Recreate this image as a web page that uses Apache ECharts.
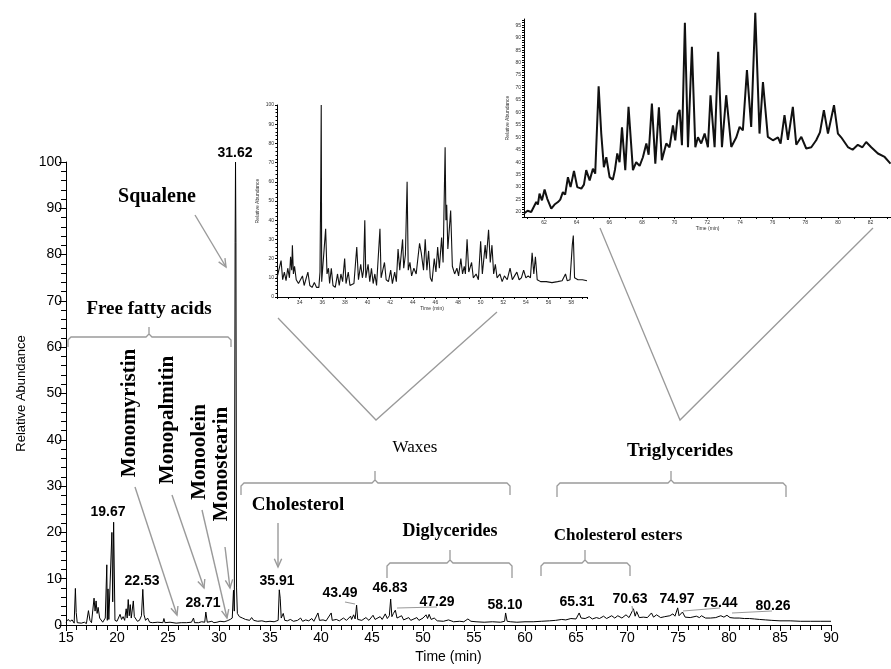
<!DOCTYPE html>
<html><head><meta charset="utf-8">
<script src="https://cdn.jsdelivr.net/npm/echarts@6/dist/echarts.min.js"></script>
<style>html,body{margin:0;padding:0;background:#fff}#c{width:891px;height:669px}</style>
</head><body><div id="c"></div>
<script>
// ---------- DATA ----------
// Main chromatogram: [time (min), relative abundance]
const mainData = [[15.0,0.6],[15.2,1.2],[15.4,0.8],[15.6,1.1],[15.8,0.4],[15.92,7.9],[16.0,2.7],[16.1,0.5],[16.5,0.4],[16.8,0.6],[17.0,0.3],[17.2,3.1],[17.35,1.0],[17.5,0.5],[17.75,5.8],[17.85,3.0],[17.95,5.2],[18.05,2.5],[18.15,3.8],[18.3,1.5],[18.45,1.6],[18.6,0.6],[18.85,1.5],[19.0,13.0],[19.05,1.0],[19.12,7.8],[19.2,1.2],[19.5,20.0],[19.58,5],[19.67,22.2],[19.8,1.0],[20.0,0.8],[20.3,2.3],[20.45,1.2],[20.6,1.8],[20.75,1.0],[20.9,3.5],[21.0,1.5],[21.1,5.5],[21.2,2.0],[21.3,4.4],[21.4,1.5],[21.6,5.2],[21.7,1.8],[21.85,1.5],[22.0,0.8],[22.2,1.0],[22.4,2.0],[22.53,7.7],[22.65,2.2],[22.8,1.0],[23.0,1.5],[23.2,0.6],[23.5,0.5],[24.0,0.6],[24.5,0.5],[24.6,1.4],[24.7,0.5],[25.2,0.6],[25.8,0.4],[26.3,0.5],[26.8,0.5],[27.3,0.6],[27.5,1.5],[27.6,0.5],[28.0,0.5],[28.3,0.7],[28.6,0.6],[28.71,2.8],[28.85,0.6],[29.3,0.8],[29.5,0.5],[29.8,0.6],[30.1,0.8],[30.5,0.7],[30.8,0.9],[31.1,1.2],[31.3,1.5],[31.42,7.5],[31.5,3],[31.58,82.7],[31.62,100],[31.66,82.7],[31.72,8],[31.8,2.5],[32.0,1.8],[32.3,1.5],[32.6,1.2],[33.0,1.0],[33.2,1.6],[33.4,1.0],[33.8,0.8],[34.2,0.9],[34.6,0.7],[35.0,0.8],[35.4,0.7],[35.8,1.0],[35.91,7.6],[36.0,5.8],[36.1,1.5],[36.3,2.5],[36.45,1.0],[36.7,0.9],[37.0,1.2],[37.3,0.8],[37.7,1.0],[38.0,1.5],[38.2,0.8],[38.5,1.1],[38.8,0.9],[39.1,1.4],[39.3,0.8],[39.7,2.6],[39.85,1.0],[40.2,1.1],[40.5,0.9],[41.0,2.6],[41.1,1.0],[41.5,1.2],[41.8,0.9],[42.2,1.5],[42.5,1.0],[42.9,1.9],[43.0,1.2],[43.2,2.2],[43.35,1.3],[43.49,4.3],[43.6,1.2],[44.0,1.0],[44.4,1.6],[44.7,1.0],[45.1,2.1],[45.3,1.2],[45.8,1.8],[46.0,1.2],[46.3,2.4],[46.5,1.4],[46.7,2.0],[46.83,5.6],[46.95,1.8],[47.1,2.5],[47.29,3.2],[47.45,1.5],[47.9,2.0],[48.1,1.1],[48.6,1.6],[48.8,1.0],[49.4,1.6],[49.6,1.0],[50.0,1.5],[50.3,2.2],[50.45,1.4],[50.6,2.3],[50.8,1.2],[51.1,1.5],[51.4,0.9],[52.0,0.8],[52.5,1.1],[53.0,0.7],[53.6,0.8],[54.0,0.7],[54.4,1.3],[54.7,0.8],[55.2,0.7],[56.0,0.6],[56.8,0.7],[57.6,0.6],[58.0,0.8],[58.1,2.6],[58.25,0.8],[58.6,0.7],[59.2,0.6],[60.0,0.7],[60.8,0.7],[61.6,0.8],[62.4,0.9],[63.0,1.0],[63.6,1.2],[64.0,1.1],[64.5,1.4],[65.0,1.3],[65.31,2.6],[65.5,1.5],[65.9,1.4],[66.3,1.8],[66.6,1.3],[67.0,1.6],[67.3,1.4],[67.7,1.9],[68.0,1.4],[68.5,2.0],[68.8,1.5],[69.1,2.0],[69.5,1.5],[69.9,2.2],[70.2,1.6],[70.63,3.5],[70.8,1.9],[70.95,2.9],[71.2,1.6],[71.6,1.7],[72.0,1.6],[72.4,2.6],[72.6,1.7],[72.9,2.2],[73.3,1.6],[73.7,1.8],[74.2,2.0],[74.5,2.4],[74.7,1.9],[74.97,3.7],[75.1,2.0],[75.44,2.8],[75.7,1.7],[76.2,1.6],[76.8,1.9],[77.1,1.6],[77.3,2.0],[77.7,1.5],[78.2,1.5],[78.7,1.6],[79.2,2.0],[79.5,1.7],[79.8,2.1],[80.1,1.6],[80.5,1.5],[81.0,1.5],[81.5,1.4],[82.0,1.4],[82.5,1.3],[83.0,1.2],[83.6,1.1],[84.2,1.0],[85.0,0.9],[86.0,0.9],[87.0,0.8],[88.0,0.8],[89.0,0.8],[90.0,0.8]];

// Inset 1 (waxes region)
const waxData = [[32.0,10],[32.15,9],[32.36,19],[32.5,9],[32.65,13],[32.8,8.5],[32.95,15],[33.1,10],[33.2,21],[33.3,14],[33.36,27],[33.45,12],[33.55,16],[33.7,9],[33.9,7],[34.05,6],[34.25,11],[34.4,6],[34.55,5.5],[34.73,13],[34.9,6],[35.1,5],[35.3,7.5],[35.5,5],[35.7,5],[35.8,13],[35.87,62],[35.91,100],[35.95,8],[36.1,9],[36.3,35.5],[36.42,12],[36.55,15],[36.65,7],[36.8,15],[36.95,6],[37.15,5],[37.35,12],[37.5,6],[37.65,12],[37.8,8],[37.98,20],[38.1,7],[38.3,13],[38.45,6],[38.6,5],[38.8,7],[39.05,26],[39.2,9],[39.4,17],[39.55,10],[39.65,14],[39.76,40],[39.85,10],[40.05,17],[40.2,8],[40.35,15],[40.5,7],[40.65,12],[40.8,6],[41.1,35.5],[41.2,10],[41.35,9],[41.5,18],[41.65,9],[41.85,8],[42.05,14],[42.2,7],[42.4,13],[42.55,8],[42.7,25],[42.85,14],[43.1,30],[43.2,15],[43.35,22],[43.5,60],[43.6,14],[43.75,18],[43.9,11],[44.1,15],[44.3,12],[44.6,28],[44.75,23],[44.95,14],[45.1,30],[45.25,14],[45.4,24],[45.55,10],[45.7,8],[45.9,20],[46.05,13],[46.2,26],[46.35,15],[46.55,31],[46.68,18],[46.86,78],[46.93,40],[47.0,48],[47.1,25],[47.35,45],[47.5,16],[47.7,12],[47.9,15],[48.05,11],[48.25,20],[48.4,12],[48.55,16],[48.65,12],[48.8,30],[48.95,13],[49.2,18],[49.35,10],[49.6,12],[49.8,9],[50.0,29],[50.15,12],[50.4,27],[50.5,20],[50.7,35],[50.85,18],[51.0,27],[51.15,12],[51.3,17],[51.45,10],[51.7,12],[51.9,8],[52.1,11],[52.35,9],[52.6,15],[52.8,9],[53.0,11],[53.2,13],[53.4,9],[53.6,10],[53.8,14],[54.0,10],[54.2,11],[54.4,10],[54.55,23],[54.7,12],[54.84,21],[55.0,9],[55.3,8],[55.8,8],[56.3,7.5],[56.8,8],[57.2,8.5],[57.5,12],[57.65,8.5],[57.9,9],[58.1,27],[58.19,32],[58.3,10],[58.6,9],[59.0,9],[59.4,8.5]];

// Inset 2 (triglycerides region)
const trigData = [[60.78,19.4],[61.0,20.5],[61.22,20],[61.53,24],[61.63,23],[61.73,27.4],[61.88,24.7],[62.04,29],[62.2,25.4],[62.45,21.4],[62.65,23],[62.86,24],[63.0,25],[63.16,28],[63.3,27],[63.47,34],[63.63,30],[63.84,36.5],[64.04,30],[64.29,29.4],[64.45,31],[64.59,36.8],[64.8,32.7],[65.0,37.4],[65.14,35.4],[65.35,70.5],[65.51,51.5],[65.67,38],[65.82,42],[66.02,34],[66.22,33],[66.35,37],[66.49,43.5],[66.63,40],[66.78,54],[66.98,36.8],[67.18,62.2],[67.45,36.8],[67.65,40],[67.86,38.5],[68.06,42],[68.27,47.5],[68.41,43],[68.61,63.5],[68.82,39.4],[69.04,62],[69.22,40.8],[69.49,47.5],[69.69,46],[69.9,54.8],[70.04,48.8],[70.2,59.5],[70.31,61],[70.45,46.8],[70.63,96],[70.82,46],[71.06,86.3],[71.27,46],[71.43,50],[71.63,47.5],[71.84,51.5],[72.04,46],[72.2,66.9],[72.45,46],[72.67,84.3],[72.9,46],[73.16,66.9],[73.47,46.1],[73.62,48],[73.78,50],[73.98,54.2],[74.18,52.8],[74.43,77],[74.69,54.2],[74.94,100],[75.2,51.5],[75.41,72.2],[75.71,50.2],[76.02,48.8],[76.33,50],[76.49,47.5],[76.73,58.9],[76.94,49],[77.24,62.2],[77.45,47],[77.76,50.2],[78.06,45.5],[78.37,46],[78.67,48.8],[78.9,52],[79.14,60.9],[79.39,51.5],[79.76,62.9],[80.0,51.5],[80.2,50],[80.61,46.1],[80.9,45],[81.22,47],[81.5,46],[81.73,48.1],[82.04,46],[82.45,43.5],[82.86,42.1],[83.22,39.4]];

// Retention times printed above peaks
const peakLabels = [31.62, 19.67, 22.53, 28.71, 35.91, 43.49, 46.83, 47.29, 58.10, 65.31, 70.63, 74.97, 75.44, 80.26];

// Compound / region names
const compoundNames = ['Squalene', 'Free fatty acids', 'Monomyristin', 'Monopalmitin', 'Monoolein', 'Monostearin', 'Cholesterol', 'Waxes', 'Diglycerides', 'Triglycerides', 'Cholesterol esters'];

// Tick values
const mainYTicks = {min: 0, max: 100, step: 10};
const mainXTicks = {min: 15, max: 90, step: 5};
const inset1XLabels = [34, 36, 38, 40, 42, 44, 46, 48, 50, 52, 54, 56, 58];
const inset2XLabels = [62, 64, 66, 68, 70, 72, 74, 76, 78, 80, 82];
const inset2YLabels = [20, 25, 30, 35, 40, 45, 50, 55, 60, 65, 70, 75, 80, 85, 90, 95];

// ---------- LAYOUT / STYLE ----------
const SANS = '"Liberation Sans", Arial, sans-serif';
const SERIF = '"Liberation Serif", "Times New Roman", serif';
const GRAY = '#9a9a9a';
const BLACK = '#000';

function range(a, b, s) { const r = []; for (let v = a; v <= b + 1e-9; v += s) r.push(+v.toFixed(4)); return r; }

const chart = echarts.init(document.getElementById('c'));

const smallAxis = (extra) => Object.assign({
  axisLine: {lineStyle: {color: BLACK, width: 1}},
  axisTick: {length: 2, lineStyle: {color: BLACK, width: 1}},
  axisLabel: {fontSize: 5, color: '#333', fontFamily: SANS, margin: 3},
  splitLine: {show: false},
  nameLocation: 'middle',
  nameTextStyle: {fontSize: 5, color: '#333', fontFamily: SANS}
}, extra);

const option = {
  animation: false,
  backgroundColor: '#fff',
  grid: [
    {left: 66, right: 60, top: 162, bottom: 44},
    {left: 277, right: 304, top: 105, bottom: 372},
    {left: 524, right: 0, top: 19, bottom: 452}
  ],
  xAxis: [
    {
      gridIndex: 0, type: 'value', min: mainXTicks.min, max: mainXTicks.max, interval: mainXTicks.step,
      name: 'Time (min)', nameLocation: 'middle', nameGap: 25,
      nameTextStyle: {fontSize: 14, color: BLACK, fontFamily: SANS},
      axisLine: {lineStyle: {color: BLACK, width: 1}},
      axisTick: {length: 6, lineStyle: {color: BLACK}},
      minorTick: {show: true, splitNumber: 5, length: 5, lineStyle: {color: BLACK}},
      axisLabel: {fontSize: 14, color: BLACK, fontFamily: SANS, margin: 6},
      splitLine: {show: false}
    },
    smallAxis({
      gridIndex: 1, type: 'value', min: 32, max: 59.4, interval: 2,
      name: 'Time (min)', nameGap: 8,
      minorTick: {show: true, splitNumber: 2, length: 2, lineStyle: {color: BLACK}},
      axisLabel: {fontSize: 5, color: '#333', fontFamily: SANS, margin: 3, showMinLabel: false, showMaxLabel: false}
    }),
    smallAxis({
      gridIndex: 2, type: 'value', min: 60.78, max: 83.25,
      name: 'Time (min)', nameGap: 8,
      axisTick: {length: 2, lineStyle: {color: BLACK}, customValues: range(61, 83, 1)},
      axisLabel: {fontSize: 5, color: '#333', fontFamily: SANS, margin: 3, customValues: inset2XLabels}
    })
  ],
  yAxis: [
    {
      gridIndex: 0, type: 'value', min: mainYTicks.min, max: mainYTicks.max, interval: mainYTicks.step,
      name: 'Relative Abundance', nameLocation: 'middle', nameGap: 38,
      nameTextStyle: {fontSize: 13, color: BLACK, fontFamily: SANS},
      axisLine: {show: true, lineStyle: {color: BLACK, width: 1}},
      axisTick: {show: true, length: 7, lineStyle: {color: BLACK}},
      minorTick: {show: true, splitNumber: 5, length: 5, lineStyle: {color: BLACK}},
      axisLabel: {fontSize: 14, color: BLACK, fontFamily: SANS, margin: 4},
      splitLine: {show: false}
    },
    smallAxis({
      gridIndex: 1, type: 'value', min: 0, max: 100, interval: 10,
      name: 'Relative Abundance', nameGap: 17,
      axisLine: {show: true, lineStyle: {color: BLACK, width: 1}},
      axisTick: {show: true, length: 2, lineStyle: {color: BLACK}},
      minorTick: {show: true, splitNumber: 5, length: 1.5, lineStyle: {color: BLACK}}
    }),
    smallAxis({
      gridIndex: 2, type: 'value', min: 18, max: 97.5,
      name: 'Relative Abundance', nameGap: 14,
      axisLine: {show: true, lineStyle: {color: BLACK, width: 1}},
      axisTick: {show: true, length: 2, lineStyle: {color: BLACK}, customValues: range(18, 97, 1)},
      axisLabel: {fontSize: 5, color: '#333', fontFamily: SANS, margin: 3, customValues: inset2YLabels}
    })
  ],
  series: [
    {type: 'line', xAxisIndex: 0, yAxisIndex: 0, data: mainData, showSymbol: false, lineStyle: {color: BLACK, width: 1}, silent: true},
    {type: 'line', xAxisIndex: 1, yAxisIndex: 1, data: waxData, showSymbol: false, lineStyle: {color: '#111', width: 1.1}, silent: true},
    {type: 'line', xAxisIndex: 2, yAxisIndex: 2, data: trigData, showSymbol: false, clip: false, lineStyle: {color: '#111', width: 2}, silent: true}
  ]
};
chart.setOption(option);

// ---------- ANNOTATIONS ----------
const g = [];
function text(str, x, y, font, opts) {
  g.push(Object.assign({type: 'text', x: x, y: y, z: 10,
    style: {text: str, font: font, fill: BLACK, align: 'center', verticalAlign: 'middle'}}, opts || {}));
}
function line(pts, w) {
  g.push({type: 'polyline', z: 9, shape: {points: pts}, style: {stroke: GRAY, lineWidth: w || 1.3, fill: null}});
}
function arrow(x1, y1, x2, y2) {
  const a = Math.atan2(y2 - y1, x2 - x1), L = 9, w = 0.42;
  line([[x1, y1], [x2, y2]], 1.4);
  line([[x2 - L * Math.cos(a - w), y2 - L * Math.sin(a - w)], [x2, y2], [x2 - L * Math.cos(a + w), y2 - L * Math.sin(a + w)]], 1.4);
}
function bracket(x1, x2, xc, y, hEnd, hMid) {
  line([[x1, y + hEnd], [x1, y + 3], [x1 + 3, y], [xc - 3, y], [xc, y - 3], [xc, y - hMid], [xc, y - 3], [xc + 3, y], [x2 - 3, y], [x2, y + 3], [x2, y + hEnd]], 1.3);
}

// peak labels: pixel layout for each retention time
const peakLabelPos = [[235, 153], [108, 512], [142, 581], [203, 603], [277, 581], [340, 593], [390, 588], [437, 602], [505, 605], [577, 602], [630, 599], [677, 599], [720, 603], [773, 606]];
const PKFONT = 'bold 14px ' + SANS;
peakLabels.forEach((t, i) => text(t.toFixed(2), peakLabelPos[i][0], peakLabelPos[i][1], PKFONT));

const BIG = 'bold 20px ' + SERIF;
text(compoundNames[0], 157, 197, BIG);
text(compoundNames[1], 149, 309, 'bold 19px ' + SERIF);
text(compoundNames[2], 130, 413, 'bold 21px ' + SERIF, {rotation: Math.PI / 2});
text(compoundNames[3], 168, 420, 'bold 21px ' + SERIF, {rotation: Math.PI / 2});
text(compoundNames[4], 200, 452, 'bold 21px ' + SERIF, {rotation: Math.PI / 2});
text(compoundNames[5], 222, 464, 'bold 21px ' + SERIF, {rotation: Math.PI / 2});
text(compoundNames[6], 298, 505, 'bold 19px ' + SERIF);
text(compoundNames[7], 415, 448, '17px ' + SERIF);
text(compoundNames[8], 450, 531, 'bold 18px ' + SERIF);
text(compoundNames[9], 680, 451, 'bold 19px ' + SERIF);
text(compoundNames[10], 618, 536, 'bold 17px ' + SERIF);

// arrows
arrow(195, 215, 226, 267);
arrow(135, 487, 177, 615);
arrow(172, 495, 204, 588);
arrow(202, 510, 227, 618);
arrow(225, 547, 230, 588);
arrow(278, 523, 278, 567);

// brackets
bracket(68, 231, 149, 337, 10, 10);
bracket(241, 510, 375, 483, 12, 12);
bracket(557, 786, 671, 483, 14, 12);
bracket(387, 512, 450, 563, 15, 13);
bracket(541, 630, 585, 563, 13, 13);

// V connectors to insets
line([[278, 318], [376, 420], [497, 312]], 1.3);
line([[600, 228], [680, 420], [873, 228]], 1.3);

// small leader lines near peak labels
line([[345, 602], [355, 604]], 1.2);
line([[397, 608], [437, 607]], 1.2);
line([[632, 606], [633, 612]], 1.2);
line([[683, 611], [720, 608]], 1.2);
line([[732, 613], [772, 611]], 1.2);

chart.setOption({graphic: {elements: g}});
</script>
</body></html>
